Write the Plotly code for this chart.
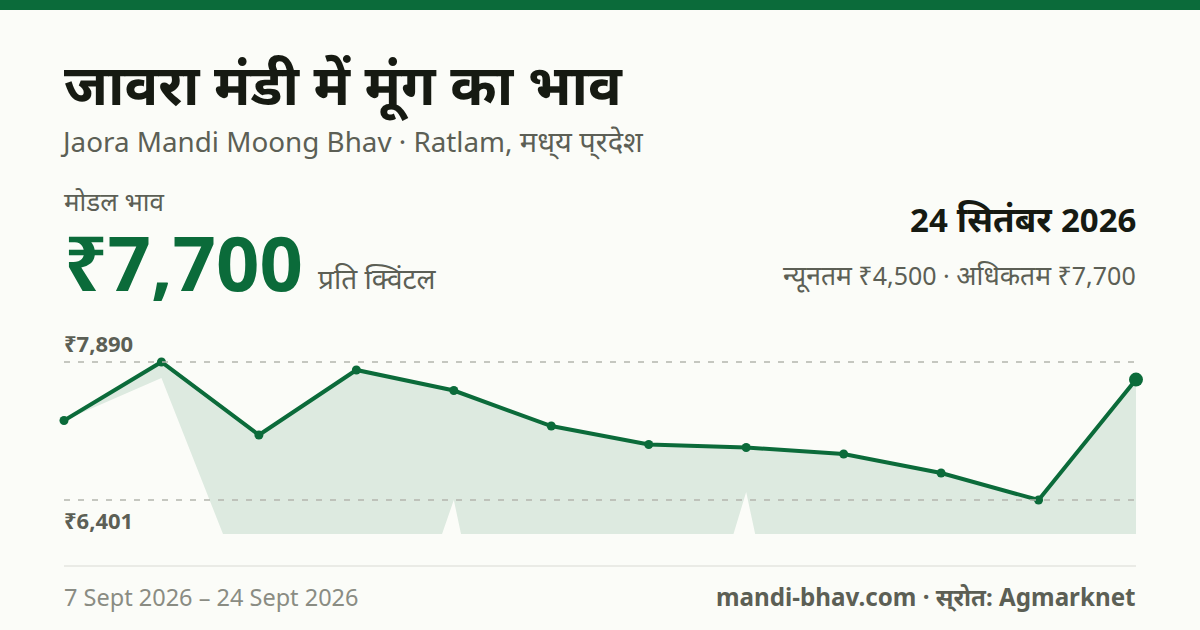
#!/usr/bin/env python3
# -*- coding: utf-8 -*-
import plotly.graph_objects as go

# daily values, last 12 reported days
day_index = [0, 1, 2, 3, 4, 5, 6, 7, 8, 9, 10, 11]
modal_prices = [7259, 7890, 7102, 7804, 7582, 7199, 7000, 6967, 6897, 6692, 6401, 7700]
min_prices = [7259, 7717, 5052, 3369, 6401, 1438, 3013, 6487, 1578, 5000, 4800, 4500]

high_price = 7890
low_price = 6401
high_label = "₹7,890"
low_label = "₹6,401"

GREEN = "#0b6b3a"
INK = "#161a12"
GREY = "#5c5f55"
LIGHT = "#8a8c83"
BG = "#fbfcf8"
FONT = "Noto Sans, Noto Sans Devanagari, sans-serif"


def hi(text, size):
    # Devanagari runs a little larger than the latin around them
    return f'<span style="font-size:{size}px">{text}</span>'


title_text = "जावरा मंडी में मूंग का भाव"
subtitle_text = "Jaora Mandi Moong Bhav · Ratlam, " + hi("मध्\u200cय प्\u200cरदेश", 29)
modal_label = "मोडल भाव"
modal_value = "₹7,700"
unit_label = "प्रति क्विंटल"
date_label = hi("24", 33) + " सितंबर " + hi("2026", 33)
range_label = hi("न्यूनतम", 26.5) + " ₹4,500 · " + hi("अधिकतम", 26.5) + " ₹7,700"
period_label = "7 Sept 2026 – 24 Sept 2026"
source_label = "mandi-bhav.com · " + hi("स्\u200cरोत:", 24) + " Agmarknet"

W, H = 1200, 630
LEFT, RIGHT = 64, 1136
TOP, BOTTOM = 340, 534


def px(x):
    return (x - LEFT) / (RIGHT - LEFT)


def py(y):
    return (BOTTOM - y) / (BOTTOM - TOP)


def label(x, y, text, size, color, bold=False, anchor="left"):
    # annotation box adds 1px of border, take it back
    x = x - 1 if anchor == "left" else x + 1
    fig.add_annotation(x=px(x), y=py(y), xref="paper", yref="paper", text=f"<b>{text}</b>" if bold else text,
                       showarrow=False, xanchor=anchor, yanchor="middle", align=anchor,
                       borderpad=0, font=dict(family=FONT, size=size, color=color))


fig = go.Figure()

# band between lower and modal price, runs off the bottom of the plot
fig.add_trace(go.Scatter(x=day_index, y=min_prices, mode="lines", line=dict(width=0), hoverinfo="skip"))
fig.add_trace(go.Scatter(x=day_index, y=modal_prices, mode="lines", line=dict(width=0), fill="tonexty",
                         fillcolor="rgba(11,107,58,0.12)", hoverinfo="skip"))
fig.add_trace(go.Scatter(x=day_index, y=modal_prices, mode="lines+markers", cliponaxis=False,
                         line=dict(color=GREEN, width=4),
                         marker=dict(color=GREEN, opacity=1, line=dict(width=0), size=[9] * 11 + [14])))

# px per rupee from the two dashed lines (y=362 and y=500)
scale = (500 - 362) / (high_price - low_price)
y_top = high_price + (362 - TOP) / scale
y_bottom = high_price - (BOTTOM - 362) / scale

for price in [high_price, low_price]:
    fig.add_shape(type="line", xref="paper", yref="y", x0=0, x1=1, y0=price, y1=price, layer="above",
                  line=dict(color="#b4b5ad", width=1.5, dash="6px,8px"))

# top bar and footer rule
fig.add_shape(type="rect", xref="paper", yref="paper", x0=px(0), x1=px(W), y0=py(10), y1=py(0),
              fillcolor=GREEN, line=dict(width=0))
fig.add_shape(type="line", xref="paper", yref="paper", x0=0, x1=1, y0=py(566), y1=py(566),
              line=dict(color="#e5e6e0", width=1.5))

label(64, 83, title_text, 56, INK, bold=True)
label(60, 140, subtitle_text, 27.8, GREY)
label(64, 201, modal_label, 26, GREY)
label(64, 261.5, modal_value, 76, GREEN, bold=True)
label(318, 278, unit_label, 28, GREY)
label(1136, 218, date_label, 35, INK, bold=True, anchor="right")
label(1136, 275, range_label, 25, GREY, anchor="right")
label(64, 343, high_label, 22, GREY, bold=True)
label(64, 520, low_label, 22, GREY, bold=True)
label(64, 596.5, period_label, 23.5, LIGHT)
label(1136, 596.5, source_label, 24.2, GREY, bold=True, anchor="right")

fig.update_layout(width=W, height=H, showlegend=False, paper_bgcolor=BG, plot_bgcolor=BG,
                  margin=dict(l=LEFT, r=W - RIGHT, t=TOP, b=H - BOTTOM, pad=0),
                  font=dict(family=FONT),
                  xaxis=dict(range=[0, 11], visible=False),
                  yaxis=dict(range=[y_bottom, y_top], visible=False))

# page body has a default 8px margin
fig.write_html("out.html", config=dict(displayModeBar=False), post_script="document.body.style.margin='0';")
